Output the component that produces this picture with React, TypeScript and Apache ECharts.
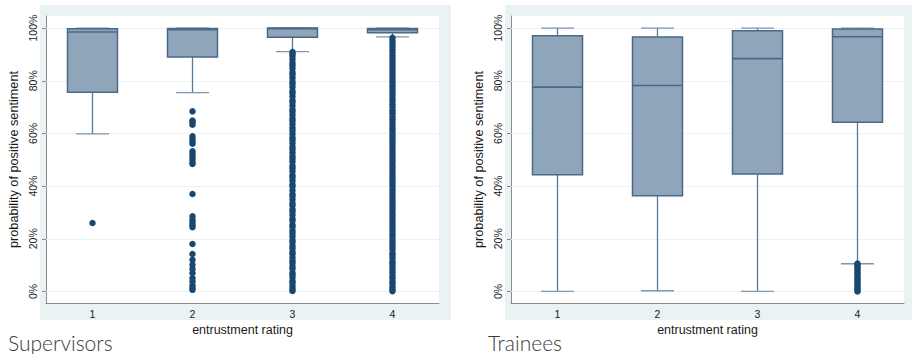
import React, { useEffect, useRef } from "react";
import * as echarts from "echarts";

// ---- data ----
const categories = [1, 2, 3, 4];
const yTicks = [0, 20, 40, 60, 80, 100];

// Supervisors box statistics (percent)
const supLowerWhisker = [59.8, 75.5, 91.1, 96.7];
const supQ1 = [75.6, 89.0, 96.5, 98.2];
const supMedian = [98.5, 99.4, 99.8, 99.4];
const supQ3 = [99.8, 99.9, 100, 99.9];
const supUpperWhisker = [100, 100, 100, 100];

// Supervisors outliers per rating
const supOut1 = [26.0];
const supOut2 = [68.4, 64.9, 64.2, 63.3, 58.9, 57.8, 57.0, 56.1, 53.2, 52.3, 51.3, 50.3, 49.1, 48.4, 37.0, 28.5, 27.2, 26.2, 25.2, 24.4, 18.0, 14.2, 12.0, 10.1, 8.5, 7.0, 5.1, 3.8, 2.2, 1.3, 0.6];
const supOut3 = [0.2, 1.0, 2.1, 3.3, 4.0, 5.4, 6.3, 7.1, 8.6, 9.5, 10.8, 11.6, 12.9, 14.2, 15.0, 16.4, 17.3, 18.7, 19.5, 20.9, 22.1, 23.0, 24.5, 25.3, 26.8, 27.6, 29.0, 30.3, 31.2, 32.6, 33.5, 34.9, 36.1, 37.0, 38.4, 39.8, 40.6, 42.0, 43.3, 44.1, 45.6, 46.8, 47.7, 49.2, 50.4, 51.3, 52.7, 53.9, 54.8, 56.2, 57.5, 58.4, 59.8, 61.0, 62.1, 63.5, 64.7, 65.6, 67.0, 68.2, 69.1, 70.5, 71.8, 72.6, 74.0, 75.3, 76.1, 77.6, 78.8, 79.7, 81.1, 82.4, 83.2, 84.7, 85.9, 86.8, 88.2, 89.4, 90.2, 90.9];
const supOut4 = [0.1, 0.8, 1.9, 3.0, 3.8, 5.1, 6.0, 7.3, 8.2, 9.4, 10.5, 11.3, 12.7, 13.8, 14.6, 16.0, 17.1, 18.2, 19.3, 20.6, 21.7, 22.8, 24.0, 25.1, 26.3, 27.4, 28.6, 29.7, 30.9, 32.0, 33.2, 34.3, 35.5, 36.6, 37.8, 38.9, 40.1, 41.2, 42.4, 43.5, 44.7, 45.8, 47.0, 48.1, 49.3, 50.4, 51.6, 52.7, 53.9, 55.0, 56.2, 57.3, 58.5, 59.6, 60.8, 61.9, 63.1, 64.2, 65.4, 66.5, 67.7, 68.8, 70.0, 71.1, 72.3, 73.4, 74.6, 75.7, 76.9, 78.0, 79.2, 80.3, 81.5, 82.6, 83.8, 84.9, 86.1, 87.2, 88.4, 89.5, 90.7, 91.8, 93.0, 94.1, 95.3, 96.3];

// Trainees box statistics (percent)
const trnLowerWhisker = [0, 0.25, 0, 10.5];
const trnQ1 = [44.3, 36.3, 44.6, 64.2];
const trnMedian = [77.6, 78.2, 88.4, 96.7];
const trnQ3 = [97.1, 96.6, 99.0, 99.7];
const trnUpperWhisker = [100, 100, 100, 100];

// Trainees outliers
const trnOut4 = [0.0, 0.6, 1.3, 2.2, 2.9, 3.8, 4.5, 5.3, 6.2, 6.9, 7.8, 8.6, 9.3, 10.1, 10.6];

const panelTitles = ["Supervisors", "Trainees"];
const yName = "probability of positive sentiment";
const xName = "entrustment rating";

// ---- styles ----
const BG = "#eaf2f3";
const BOX_FILL = "#8fa5ba";
const BOX_LINE = "#4a6888";
const WHISKER = "#5b7a99";
const CAP = "#7d96ae";
const DOT = "#1a476f";
const AXIS = "#8a8a8a";
const FONT = "'Liberation Sans', Arial, sans-serif";

function boxRows(lo: number[], q1: number[], med: number[], q3: number[], hi: number[]) {
  return categories.map((c, i) => [c, lo[i], q1[i], med[i], q3[i], hi[i]]);
}
function outlierRows(lists: number[][]) {
  const out: number[][] = [];
  lists.forEach((l, i) => l.forEach((v) => out.push([categories[i], v])));
  return out;
}

const renderBox = (params: any, api: any) => {
  const x = api.value(0);
  const lo = api.value(1), q1 = api.value(2), med = api.value(3), q3 = api.value(4), hi = api.value(5);
  const half = api.size([0.5, 0])[0] / 2;
  const capHalf = api.size([0.33, 0])[0] / 2;
  const pLo = api.coord([x, lo]);
  const pQ1 = api.coord([x, q1]);
  const pMed = api.coord([x, med]);
  const pQ3 = api.coord([x, q3]);
  const pHi = api.coord([x, hi]);
  const cx = pLo[0];
  return {
    type: "group",
    children: [
      { type: "line", shape: { x1: cx, y1: pQ3[1], x2: cx, y2: pHi[1] }, style: { stroke: WHISKER, lineWidth: 1.3 } },
      { type: "line", shape: { x1: cx, y1: pQ1[1], x2: cx, y2: pLo[1] }, style: { stroke: WHISKER, lineWidth: 1.3 } },
      { type: "line", shape: { x1: cx - capHalf, y1: pHi[1], x2: cx + capHalf, y2: pHi[1] }, style: { stroke: CAP, lineWidth: 1.3 } },
      { type: "line", shape: { x1: cx - capHalf, y1: pLo[1], x2: cx + capHalf, y2: pLo[1] }, style: { stroke: CAP, lineWidth: 1.3 } },
      {
        type: "rect",
        shape: { x: cx - half, y: pQ3[1], width: half * 2, height: pQ1[1] - pQ3[1] },
        style: { fill: BOX_FILL, stroke: BOX_LINE, lineWidth: 1.5 },
      },
      { type: "line", shape: { x1: cx - half, y1: pMed[1], x2: cx + half, y2: pMed[1] }, style: { stroke: BOX_LINE, lineWidth: 1.6 } },
    ],
  };
};

function xAxisCfg(gridIndex: number) {
  return {
    type: "value",
    gridIndex,
    min: 0.535,
    max: 4.465,
    name: xName,
    nameLocation: "middle",
    nameGap: 19,
    nameTextStyle: { fontFamily: FONT, fontSize: 12.5, color: "#1a1a1a" },
    axisLine: { show: true, onZero: false, lineStyle: { color: AXIS, width: 1 } },
    axisTick: { show: false, customValues: categories },
    axisLabel: { customValues: categories, margin: 5, fontFamily: FONT, fontSize: 10.5, color: "#1a1a1a" },
    splitLine: { show: false },
  };
}
function yAxisCfg(gridIndex: number) {
  return {
    type: "value",
    gridIndex,
    min: -4.4,
    max: 104.6,
    name: yName,
    nameLocation: "middle",
    nameGap: 26,
    nameTextStyle: { fontFamily: FONT, fontSize: 12.7, color: "#1a1a1a" },
    axisLine: { show: true, onZero: false, lineStyle: { color: AXIS, width: 1 } },
    axisTick: { show: true, length: 4, customValues: yTicks, lineStyle: { color: AXIS } },
    axisLabel: {
      customValues: yTicks,
      rotate: 90,
      margin: 8,
      fontFamily: FONT,
      fontSize: 10.5,
      color: "#1a1a1a",
      formatter: (v: number) => `${Math.round(v)}%`,
    },
    splitLine: { show: false },
  };
}

const gridLines = {
  silent: true,
  z: 1,
  symbol: "none",
  label: { show: false },
  lineStyle: { color: BG, width: 1, type: "solid" },
  data: yTicks.map((v) => ({ yAxis: v })),
};

export default function App() {
  const ref = useRef<HTMLDivElement>(null);
  useEffect(() => {
    if (!ref.current) return;
    const chart = echarts.init(ref.current, undefined, { renderer: "svg" });
    chart.setOption({
      animation: false,
      backgroundColor: "#ffffff",
      graphic: [
        { type: "rect", z: -10, shape: { x: 40, y: 5, width: 411, height: 315 }, style: { fill: BG } },
        { type: "rect", z: -10, shape: { x: 505, y: 5, width: 407, height: 315 }, style: { fill: BG } },
        {
          type: "text",
          x: 8,
          y: 342,
          style: { text: panelTitles[0], fontFamily: "Lato", fontWeight: 300, fontSize: 21, fill: "#3a3a3a", verticalAlign: "middle" },
        },
        {
          type: "text",
          x: 488,
          y: 342,
          style: { text: panelTitles[1], fontFamily: "Lato", fontWeight: 300, fontSize: 21, fill: "#3a3a3a", verticalAlign: "middle" },
        },
      ],
      grid: [
        { left: 46, top: 16, width: 393, height: 287, show: true, backgroundColor: "#ffffff", borderWidth: 0 },
        { left: 511, top: 16, width: 393, height: 287, show: true, backgroundColor: "#ffffff", borderWidth: 0 },
      ],
      xAxis: [xAxisCfg(0), xAxisCfg(1)],
      yAxis: [yAxisCfg(0), yAxisCfg(1)],
      series: [
        {
          type: "scatter",
          xAxisIndex: 0,
          yAxisIndex: 0,
          data: [],
          z: 1,
          markLine: gridLines,
        },
        {
          type: "scatter",
          xAxisIndex: 1,
          yAxisIndex: 1,
          data: [],
          z: 1,
          markLine: gridLines,
        },
        {
          type: "custom",
          xAxisIndex: 0,
          yAxisIndex: 0,
          renderItem: renderBox,
          encode: { x: 0, y: [1, 2, 3, 4, 5] },
          data: boxRows(supLowerWhisker, supQ1, supMedian, supQ3, supUpperWhisker),
          z: 3,
        },
        {
          type: "custom",
          xAxisIndex: 1,
          yAxisIndex: 1,
          renderItem: renderBox,
          encode: { x: 0, y: [1, 2, 3, 4, 5] },
          data: boxRows(trnLowerWhisker, trnQ1, trnMedian, trnQ3, trnUpperWhisker),
          z: 3,
        },
        {
          type: "scatter",
          xAxisIndex: 0,
          yAxisIndex: 0,
          symbolSize: 6.5,
          itemStyle: { color: DOT, opacity: 1 },
          data: outlierRows([supOut1, supOut2, supOut3, supOut4]),
          z: 4,
        },
        {
          type: "scatter",
          xAxisIndex: 1,
          yAxisIndex: 1,
          symbolSize: 6.5,
          itemStyle: { color: DOT, opacity: 1 },
          data: outlierRows([[], [], [], trnOut4]),
          z: 4,
        },
      ],
    });
    return () => chart.dispose();
  }, []);
  return <div ref={ref} style={{ position: "fixed", left: 0, top: 0, width: 912, height: 354 }} />;
}
